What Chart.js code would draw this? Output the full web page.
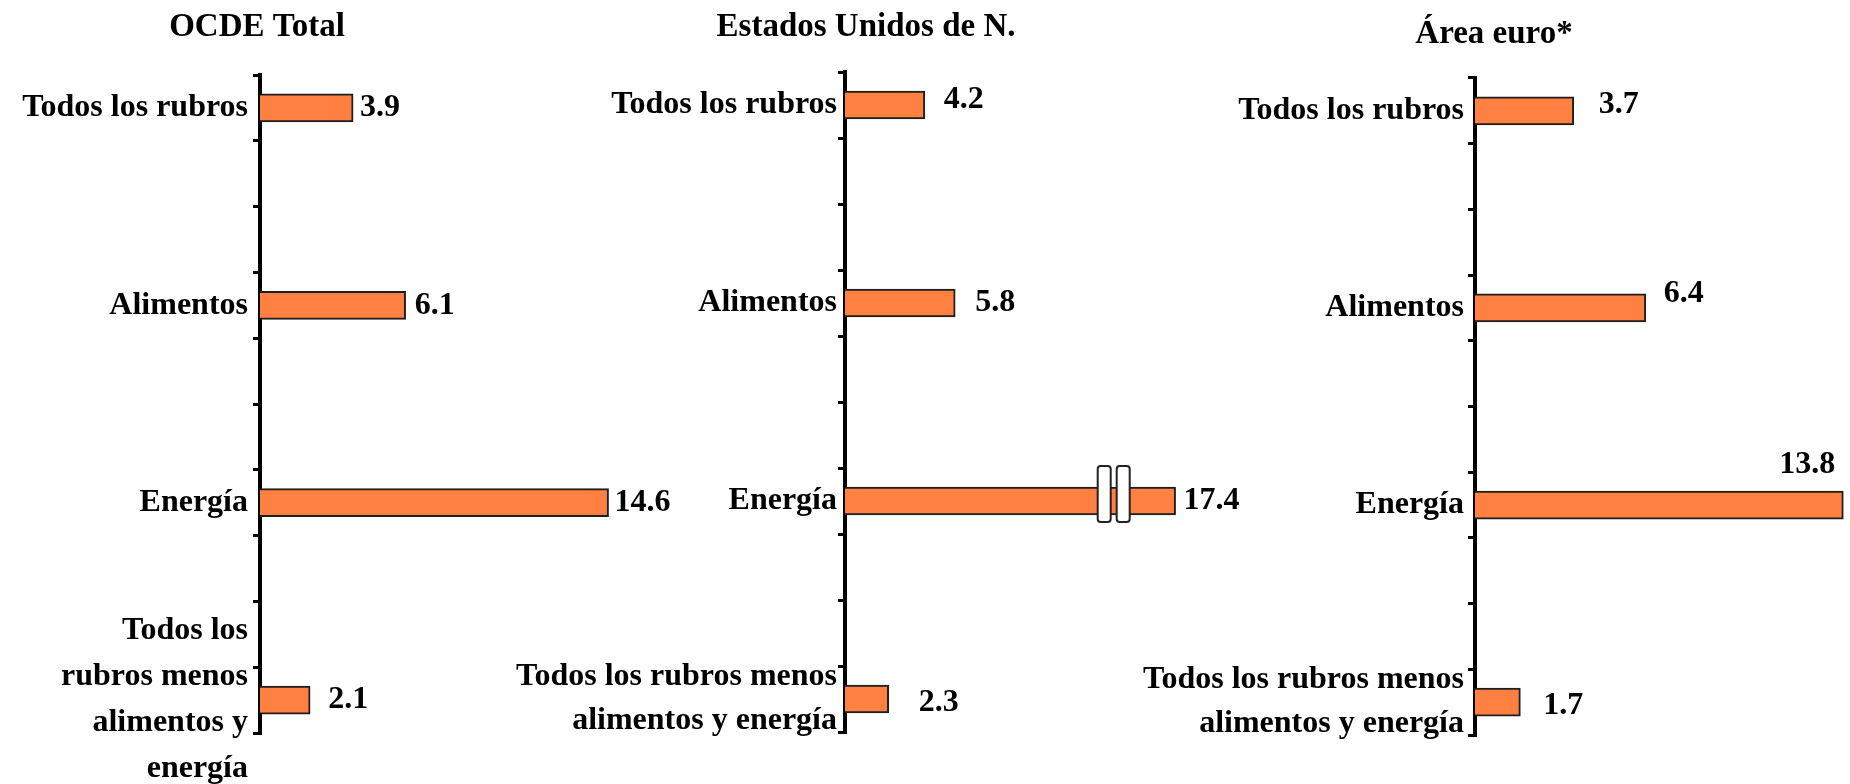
<!DOCTYPE html>
<html>
<head>
<meta charset="utf-8">
<script src="https://cdn.jsdelivr.net/npm/chart.js@4.4.1/dist/chart.umd.min.js"></script>
<style>
  html, body { margin: 0; padding: 0; background: #fff; overflow: hidden; }
  #wrap { position: relative; width: 1850px; height: 784px; }
  canvas { position: absolute; top: 0; }
</style>
</head>
<body>
<div id="wrap">
  <canvas id="ocde" width="700" height="784" style="left:0px"></canvas>
  <canvas id="eeuu" width="780" height="784" style="left:490px"></canvas>
  <canvas id="euro" width="740" height="784" style="left:1110px"></canvas>
</div>
<script>
// rubros (el último se corta distinto en el primer panel)
const rubrosOcde = ['Todos los rubros', 'Alimentos', 'Energía', ['Todos los', 'rubros menos', 'alimentos y', 'energía']];
const rubros = ['Todos los rubros', 'Alimentos', 'Energía', ['Todos los rubros menos', 'alimentos y energía']];

// variación anual, %
const ocdeTotal = [3.9, 6.1, 14.6, 2.1];
const estadosUnidos = [4.2, 5.8, 17.4, 2.3];
const areaEuro = [3.7, 6.4, 13.8, 1.7];

const titulos = ['OCDE Total', 'Estados Unidos de N.', 'Área euro*'];

const FONT = '"Liberation Serif", "Times New Roman", serif';
const SLOTS = 3; // cada rubro ocupa 3 marcas del eje

// intercala huecos vacíos entre rubros para que salgan las marcas intermedias
function expand(arr, empty) {
    const out = [];
    arr.forEach((v, i) => {
        out.push(v);
        if (i < arr.length - 1) for (let k = 1; k < SLOTS; k++) out.push(empty);
    });
    return out;
}

const panelTitle = {
    id: 'panelTitle',
    afterDraw(chart, args, opts) {
        const ctx = chart.ctx;
        ctx.save();
        ctx.font = 'bold 33px ' + FONT;
        ctx.fillStyle = '#000';
        ctx.textAlign = 'center';
        ctx.textBaseline = 'middle';
        ctx.fillText(opts.text, chart.chartArea.left + opts.dx, opts.y);
        ctx.restore();
    }
};

const valueLabels = {
    id: 'valueLabels',
    afterDatasetsDraw(chart, args, opts) {
        const ctx = chart.ctx;
        const data = chart.data.datasets[0].data;
        let n = 0;
        ctx.save();
        ctx.font = 'bold 32px ' + FONT;
        ctx.fillStyle = '#000';
        ctx.textBaseline = 'middle';
        chart.getDatasetMeta(0).data.forEach((bar, i) => {
            if (data[i] == null) return;
            const o = opts.offsets[n++];
            ctx.textAlign = o[2] || 'left';
            ctx.fillText(data[i].toFixed(1), bar.x + o[0], bar.y + o[1]);
        });
        ctx.restore();
    }
};

// símbolo de corte sobre la barra de energía (EE.UU.)
const axisBreak = {
    id: 'axisBreak',
    afterDatasetsDraw(chart, args, opts) {
        if (opts.at == null) return;
        const ctx = chart.ctx;
        const bar = chart.getDatasetMeta(0).data[opts.index];
        const x = chart.scales.x.getPixelForValue(opts.at);
        ctx.save();
        ctx.fillStyle = '#fff';
        ctx.strokeStyle = '#222';
        ctx.lineWidth = 2;
        [0, 19].forEach(dx => {
            ctx.beginPath();
            ctx.roundRect(x + dx, bar.y - 35, 13, 56, 3);
            ctx.fill();
            ctx.stroke();
        });
        ctx.restore();
    }
};

function panel(id, title, labels, values, cfg) {
    const breakIdx = expand(values, null).indexOf(values[2]);
    return new Chart(document.getElementById(id), {
        type: 'bar',
        data: {
            labels: expand(labels, ''),
            datasets: [{
                data: expand(values, null),
                backgroundColor: '#FF8040',
                borderColor: '#1e1e1e',
                borderWidth: 2,
                barThickness: 28
            }]
        },
        options: {
            indexAxis: 'y',
            responsive: false,
            animation: false,
            devicePixelRatio: 1,
            layout: { padding: cfg.padding },
            plugins: {
                legend: { display: false },
                tooltip: { enabled: false },
                panelTitle: { text: title, dx: cfg.titleDx, y: cfg.titleY },
                valueLabels: { offsets: cfg.offsets },
                axisBreak: { at: cfg.breakAt, index: breakIdx }
            },
            scales: {
                x: { display: false, min: 0, max: cfg.max },
                y: {
                    afterFit: (s) => {
                        s.width = cfg.axisWidth;
                        s.paddingTop = 0;
                        s.paddingBottom = 0;
                    },
                    grid: { drawOnChartArea: false, drawTicks: true, tickLength: 7, color: '#000', lineWidth: 3 },
                    border: { display: true, color: '#000', width: 4 },
                    ticks: {
                        autoSkip: false,
                        padding: cfg.tickPad,
                        color: '#000',
                        font: { family: FONT, size: 32, weight: 'bold', lineHeight: cfg.lineHeight }
                    }
                }
            }
        },
        plugins: [panelTitle, valueLabels, axisBreak]
    });
}

panel('ocde', titulos[0], rubrosOcde, ocdeTotal, {
    padding: { top: 75, bottom: 51, left: 0, right: 58 },
    axisWidth: 260, max: 16, tickPad: 5, lineHeight: 1.44,
    titleDx: -3, titleY: 27,
    offsets: [[7, 0], [9, 0], [6, 0], [18, 0]]
});

panel('eeuu', titulos[1], rubros, estadosUnidos, {
    padding: { top: 72, bottom: 52, left: 0, right: 45 },
    axisWidth: 355, max: 20, tickPad: 1, lineHeight: 1.38,
    titleDx: 21, titleY: 27,
    offsets: [[19, -5], [20, 0], [8, 0], [30, 4]],
    breakAt: 13.3
});

panel('euro', titulos[2], rubros, areaEuro, {
    padding: { top: 78, bottom: 49, left: 0, right: 4 },
    axisWidth: 365, max: 13.9, tickPad: 4, lineHeight: 1.38,
    titleDx: 19, titleY: 34,
    offsets: [[25, -6], [18, -14], [-8, -40, 'right'], [23, 4]]
});
</script>
</body>
</html>
